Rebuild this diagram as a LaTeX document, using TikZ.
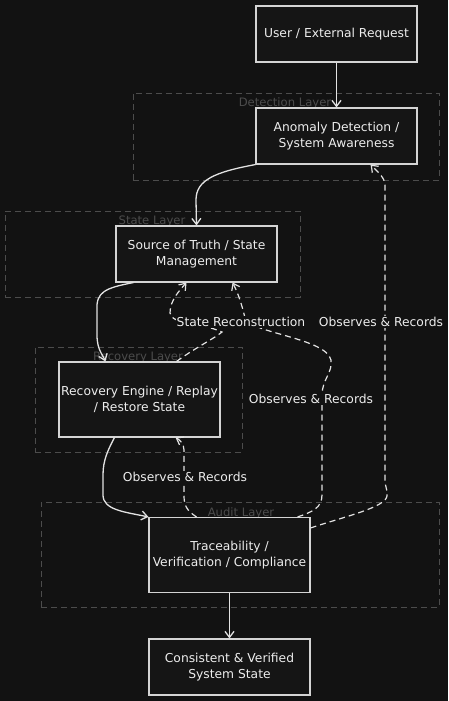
\documentclass[tikz,border=0pt]{standalone}
\usepackage{fontspec}
\setmainfont{DejaVu Sans}
\usetikzlibrary{arrows.meta,calc}

\definecolor{bgcol}{HTML}{121212}
\definecolor{nodefill}{HTML}{151515}
\definecolor{boxcol}{HTML}{D4D4D4}
\definecolor{edgecol}{HTML}{E2E2E2}
\definecolor{layercol}{HTML}{4C4C4C}
\definecolor{textcol}{HTML}{EDEDED}

\begin{document}
\begin{tikzpicture}[
  x=1pt, y=-1pt,
  font=\fontsize{12.3}{16}\selectfont,
  >={Straight Barb[length=6pt,width=9pt]},
  % ---- Node styles ----
  block/.style={draw=boxcol, fill=nodefill, line width=1.1pt, text=textcol,
                align=center, minimum width=161pt, minimum height=56pt, inner sep=2pt},
  tall/.style={block, minimum height=75pt},
  layer/.style={draw=layercol, line width=1pt, dash pattern=on 6pt off 4pt,
                inner sep=0pt},
  layerlabel/.style={text=layercol, font=\fontsize{11.6}{13}\selectfont, inner sep=1pt},
  tag/.style={text=textcol, fill=bgcol, inner sep=1pt},
  % ---- Lines ----
  flow/.style={->, draw=edgecol, line width=1.3pt},
  obs/.style={->, draw=edgecol, line width=1.2pt, dash pattern=on 6pt off 4pt}
]

% ===== Canvas (pixel grid, y grows downwards) =====
\path[use as bounding box, fill=bgcol] (0,0) rectangle (448,701);

% ===== Layers =====
\node[layer, minimum width=306pt, minimum height=87pt]  (detL) at (286,136.5) {};
\node[layer, minimum width=295pt, minimum height=86pt]  (stL)  at (152.5,254) {};
\node[layer, minimum width=207pt, minimum height=105pt] (recL) at (138.5,399.5) {};
\node[layer, minimum width=398pt, minimum height=105pt] (audL) at (240,554.5) {};

\node[layerlabel] (detT) at (285,103) {Detection Layer};
\node[layerlabel] (stT)  at (152,221) {State Layer};
\node[layerlabel] (recT) at (138,357) {Recovery Layer};
\node[layerlabel] (audT) at (241,513) {Audit Layer};

% ===== Blocks =====
\node[block] (user)  at (336.5,34)    {User / External Request};
\node[block] (anom)  at (336.5,136)   {Anomaly Detection /\\System Awareness};
\node[block] (src)   at (196.5,254)   {Source of Truth / State\\Management};
\node[tall]  (rec)   at (139.5,399.5) {Recovery Engine / Replay\\/ Restore State};
\node[tall]  (trace) at (229.5,555)   {Traceability /\\Verification / Compliance};
\node[block] (cons)  at (229.5,667)   {Consistent \& Verified\\System State};

% ===== Main flow =====
\draw[flow] (user) -- (anom);
\draw[flow] (anom.south west) .. controls (215,172) and (196,180) .. (196,200)
            -- (src.north);
\draw[flow] ($(src.south west)+(18,0)$) .. controls (105,288) and (96,292) .. (97,310)
            -- (97,335) .. controls (97,350) and (103,355) .. ($(rec.north west)+(47,0)$);
\draw[flow] ($(rec.south west)+(56,0)$) .. controls (108,450) and (103,460) .. (103,475)
            -- (103,495) .. controls (103,510) and (125,512) .. (trace.north west);
\draw[flow] (trace) -- (cons);

% ===== Dashed audit / recovery edges =====
\draw[obs] ($(trace.north)+(-33,0)$) .. controls (186,510) and (184,505) .. (184,495)
           -- (184,450) .. controls (184,444) and (180,440) .. ($(rec.south east)+(-45,0)$);
\draw[obs] ($(trace.north east)+(-13,0)$) .. controls (312,512) and (322,508) .. (322,495)
           -- (322,395) .. controls (322,380) and (333,372) .. (331,360)
           .. controls (326,338) and (250,333) .. (245,318)
           .. controls (242,305) and (238,293) .. ($(src.south east)+(-45,0)$);
\draw[obs] ($(rec.north)+(37,0)$) .. controls (195,348) and (215,338) .. (222,332)
           .. controls (200,322) and (172,325) .. (170,313)
           .. controls (170,300) and (180,290) .. ($(src.south)+(-10,0)$);
\draw[obs] ($(trace.east)+(0,-27)$) .. controls (340,518) and (375,510) .. (385,500)
           .. controls (390,494) and (385,488) .. (385,480)
           -- (385,185) .. controls (385,178) and (378,172) .. ($(anom.south east)+(-47,0)$);

% ===== Edge labels =====
\node[tag] (lblSR)   at (241,322) {State Reconstruction};
\node[tag] (lblObsD) at (381,322) {Observes \& Records};
\node[tag] (lblObsS) at (311,399) {Observes \& Records};
\node[tag] (lblObsR) at (185,477) {Observes \& Records};

\end{tikzpicture}
\end{document}
